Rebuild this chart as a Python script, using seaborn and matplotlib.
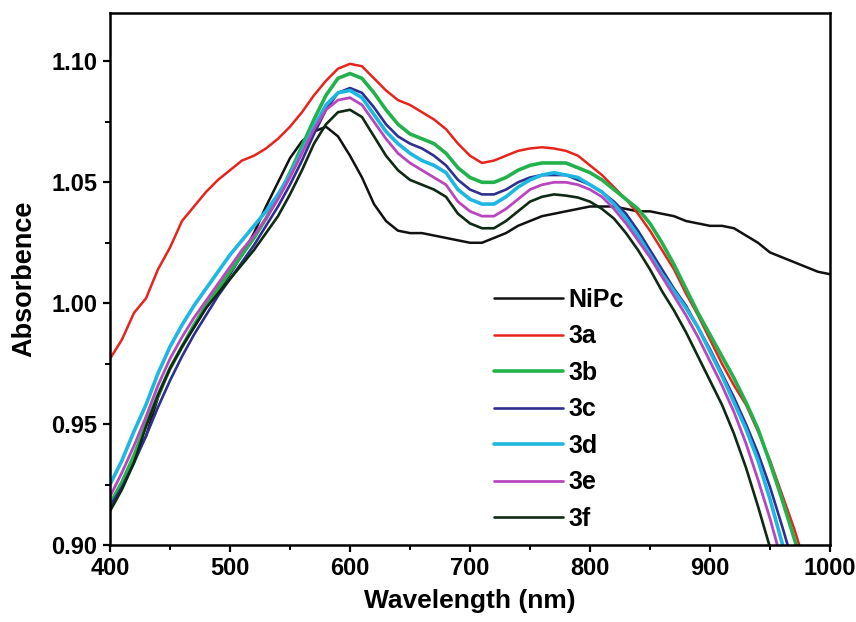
import numpy as np
import pandas as pd
import matplotlib
matplotlib.use("Agg")
import matplotlib.pyplot as plt
from matplotlib.ticker import MultipleLocator
import seaborn as sns

# wavelength grid (nm), 10 nm steps
wavelength = list(range(400, 1001, 10))

nipc = [0.915, 0.925, 0.936, 0.945, 0.961, 0.973, 0.982, 0.990, 0.998, 1.005,
        1.012, 1.020, 1.029, 1.040, 1.050, 1.060, 1.067, 1.071, 1.073, 1.069,
        1.061, 1.052, 1.041, 1.034, 1.030, 1.029, 1.029, 1.028, 1.027, 1.026,
        1.025, 1.025, 1.027, 1.029, 1.032, 1.034, 1.036, 1.037, 1.038, 1.039,
        1.040, 1.040, 1.040, 1.039, 1.038, 1.038, 1.037, 1.036, 1.034, 1.033,
        1.032, 1.032, 1.031, 1.028, 1.025, 1.021, 1.019, 1.017, 1.015, 1.013,
        1.012]

s3a = [0.977, 0.985, 0.996, 1.002, 1.014, 1.023, 1.034, 1.040, 1.046, 1.051,
       1.055, 1.059, 1.061, 1.064, 1.068, 1.073, 1.079, 1.086, 1.092, 1.097,
       1.099, 1.098, 1.093, 1.088, 1.084, 1.082, 1.079, 1.076, 1.072, 1.066,
       1.061, 1.058, 1.059, 1.061, 1.063, 1.064, 1.0645, 1.064, 1.063, 1.061,
       1.057, 1.053, 1.048, 1.043, 1.037, 1.030, 1.022, 1.014, 1.004, 0.995,
       0.985, 0.975, 0.966, 0.958, 0.947, 0.935, 0.921, 0.907, 0.891]

s3b = [0.917, 0.926, 0.937, 0.950, 0.962, 0.973, 0.982, 0.991, 0.999, 1.006,
       1.013, 1.020, 1.027, 1.035, 1.044, 1.054, 1.065, 1.076, 1.086, 1.093,
       1.095, 1.093, 1.087, 1.080, 1.074, 1.070, 1.068, 1.066, 1.062, 1.056,
       1.052, 1.050, 1.050, 1.052, 1.055, 1.057, 1.058, 1.058, 1.058, 1.056,
       1.054, 1.051, 1.047, 1.043, 1.039, 1.033, 1.025, 1.016, 1.006, 0.996,
       0.987, 0.978, 0.969, 0.959, 0.948, 0.934, 0.919, 0.903, 0.887]

s3c = [0.916, 0.924, 0.934, 0.945, 0.957, 0.968, 0.978, 0.987, 0.995, 1.003,
       1.010, 1.017, 1.024, 1.032, 1.040, 1.049, 1.059, 1.070, 1.080, 1.087,
       1.089, 1.087, 1.081, 1.074, 1.069, 1.066, 1.064, 1.061, 1.057, 1.051,
       1.047, 1.045, 1.045, 1.047, 1.050, 1.052, 1.053, 1.053, 1.053, 1.051,
       1.049, 1.046, 1.042, 1.037, 1.030, 1.022, 1.014, 1.006, 0.999, 0.990,
       0.981, 0.971, 0.961, 0.950, 0.938, 0.924, 0.908, 0.891]

s3d = [0.925, 0.935, 0.947, 0.958, 0.971, 0.982, 0.991, 0.999, 1.006, 1.013,
       1.020, 1.026, 1.032, 1.038, 1.045, 1.053, 1.063, 1.073, 1.082, 1.087,
       1.088, 1.085, 1.078, 1.071, 1.066, 1.062, 1.059, 1.057, 1.054, 1.047,
       1.043, 1.041, 1.041, 1.044, 1.048, 1.051, 1.053, 1.054, 1.053, 1.052,
       1.049, 1.046, 1.041, 1.035, 1.028, 1.020, 1.012, 1.005, 0.998, 0.990,
       0.980, 0.970, 0.959, 0.948, 0.935, 0.919, 0.901, 0.883]

s3e = [0.920, 0.930, 0.941, 0.953, 0.966, 0.977, 0.986, 0.994, 1.001, 1.008,
       1.015, 1.022, 1.028, 1.035, 1.043, 1.052, 1.062, 1.072, 1.080, 1.084,
       1.085, 1.082, 1.075, 1.068, 1.062, 1.058, 1.055, 1.052, 1.049, 1.042,
       1.038, 1.036, 1.036, 1.039, 1.043, 1.047, 1.049, 1.050, 1.050, 1.049,
       1.047, 1.044, 1.039, 1.033, 1.026, 1.019, 1.011, 1.003, 0.995, 0.986,
       0.976, 0.966, 0.955, 0.942, 0.927, 0.911, 0.893]

s3f = [0.914, 0.923, 0.934, 0.949, 0.962, 0.973, 0.982, 0.990, 0.998, 1.004,
       1.010, 1.016, 1.022, 1.029, 1.036, 1.045, 1.055, 1.066, 1.074, 1.079,
       1.080, 1.077, 1.069, 1.061, 1.055, 1.051, 1.049, 1.047, 1.044, 1.037,
       1.033, 1.031, 1.031, 1.034, 1.038, 1.042, 1.044, 1.045, 1.0445, 1.0437,
       1.042, 1.039, 1.035, 1.029, 1.022, 1.014, 1.005, 0.997, 0.988, 0.978,
       0.968, 0.958, 0.946, 0.932, 0.916, 0.899, 0.881]

labels = ["NiPc", "3a", "3b", "3c", "3d", "3e", "3f"]
series_values = [nipc, s3a, s3b, s3c, s3d, s3e, s3f]
colors = ["#111111", "#e8231c", "#22b24c", "#2e2f8f", "#1db7e2", "#b946bd", "#0e2a14"]
widths = [1.8, 1.8, 2.6, 1.9, 2.6, 2.0, 1.9]

x_ticks = [400, 500, 600, 700, 800, 900, 1000]
y_ticks = [0.90, 0.95, 1.00, 1.05, 1.10]

sns.set_theme(style="ticks")
plt.rcParams["font.family"] = ["Liberation Sans", "DejaVu Sans"]
plt.rcParams["font.weight"] = "bold"
plt.rcParams["text.color"] = "black"
plt.rcParams["axes.labelcolor"] = "black"
plt.rcParams["xtick.color"] = "black"
plt.rcParams["ytick.color"] = "black"

fig = plt.figure(figsize=(8.56, 6.22), dpi=100)
ax = fig.add_axes([0.1285, 0.1238, 0.9696 - 0.1285, 0.979 - 0.1238])

for lab, vals, c, lw in zip(labels, series_values, colors, widths):
    df = pd.DataFrame({"Wavelength": wavelength[:len(vals)], "Absorbence": vals})
    sns.lineplot(data=df, x="Wavelength", y="Absorbence", ax=ax, color=c,
                 linewidth=lw, label=lab)

ax.set_xlim(400, 1000)
ax.set_ylim(0.90, 1.12)
ax.set_xticks(x_ticks)
ax.set_yticks(y_ticks)
ax.set_xticklabels([str(v) for v in x_ticks])
ax.set_yticklabels([f"{v:.2f}" for v in y_ticks])
ax.xaxis.set_minor_locator(MultipleLocator(50))
ax.yaxis.set_minor_locator(MultipleLocator(0.025))
ax.tick_params(axis="both", which="major", direction="out", length=5, width=1.6,
               labelsize=17, pad=4, color="black", labelcolor="black")
ax.tick_params(axis="both", which="minor", direction="out", length=3.5, width=1.4,
               color="black")
for lbl in ax.get_xticklabels() + ax.get_yticklabels():
    lbl.set_fontweight("bold")

for sp in ax.spines.values():
    sp.set_visible(True)
    sp.set_linewidth(1.8)
    sp.set_color("black")

ax.set_xlabel("Wavelength (nm)", fontsize=19, fontweight="bold", labelpad=6, color="black")
ax.set_ylabel("Absorbence", fontsize=19.5, fontweight="bold", labelpad=10, color="black")

leg = ax.legend(loc="upper left", bbox_to_anchor=(0.52, 0.502), frameon=False,
                fontsize=18, handlelength=2.75, handletextpad=0.22, labelspacing=0.5,
                borderaxespad=0)
for t in leg.get_texts():
    t.set_fontweight("bold")
    t.set_color("black")

fig.savefig("out.png", dpi=100)
